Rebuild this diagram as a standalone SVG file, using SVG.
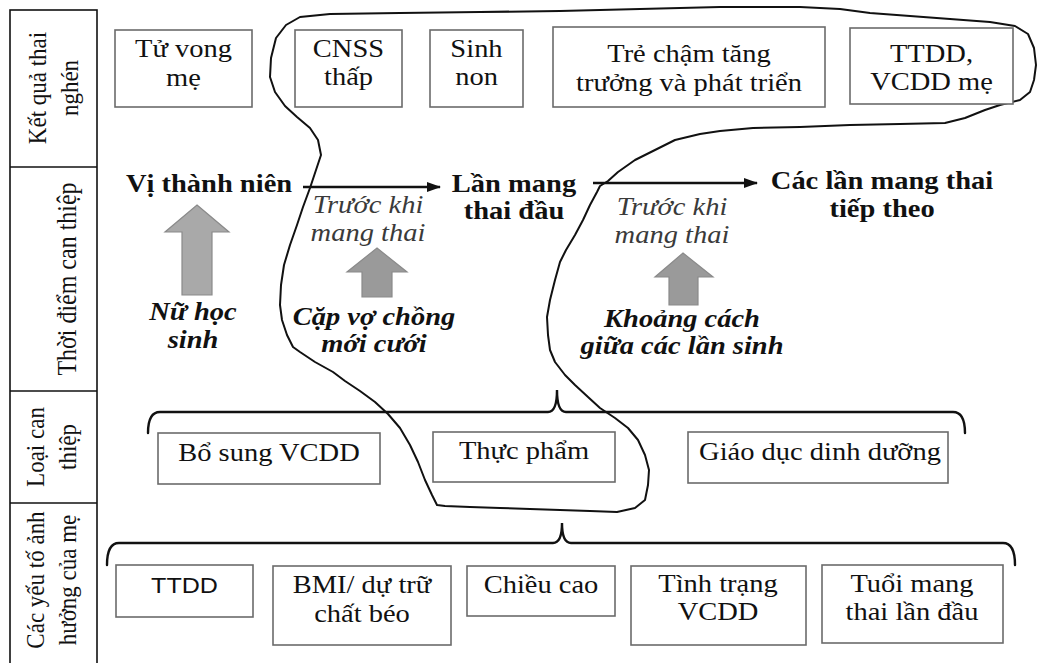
<svg xmlns="http://www.w3.org/2000/svg" width="1037" height="663" viewBox="0 0 1037 663">
<style>
.box{fill:#fff;stroke:#6b6b6b;stroke-width:1.6}
.t{font-family:"Liberation Serif","Times New Roman",serif;font-size:25px;fill:#111;text-anchor:middle}
.b{font-weight:bold}
.i{font-style:italic;fill:#3a3a3a}
.bi{font-weight:bold;font-style:italic}
.sans{font-family:"Liberation Sans",Arial,sans-serif;font-size:22px}
.v{font-size:23px}
.col{fill:none;stroke:#111;stroke-width:1.6}
.blk{fill:#a9a9a9;stroke:#8a8a8a;stroke-width:1.2}
.blk2{fill:#9a9a9a;stroke:#8a8a8a;stroke-width:1.2}
.br{fill:none;stroke:#111;stroke-width:2.4;stroke-linecap:round}
.loop{fill:none;stroke:#111;stroke-width:2;stroke-linejoin:round}
.arr{stroke:#111;stroke-width:2.6}
</style>
<defs>
<marker id="ah" markerWidth="14" markerHeight="12" refX="13" refY="6" orient="auto" markerUnits="userSpaceOnUse">
<path d="M0,1 L14,6 L0,11 Z" fill="#111"/>
</marker>
</defs>
<rect width="1037" height="663" fill="#fff"/>

<g id="side-labels">
<rect class="col" x="10" y="10" width="87" height="670"/>
<line class="col" x1="10" y1="167" x2="97" y2="167"/>
<line class="col" x1="10" y1="391" x2="97" y2="391"/>
<line class="col" x1="10" y1="503" x2="97" y2="503"/>
<text class="t v" transform="translate(46,88) rotate(-90) scale(1,1.12)"><tspan x="0" y="0">Kết quả thai</tspan><tspan x="0" y="29">nghén</tspan></text>
<text class="t v" transform="translate(76,279) rotate(-90) scale(1,1.12)" style="font-size:24px">Thời điểm can thiệp</text>
<text class="t v" transform="translate(44,447) rotate(-90) scale(1,1.12)"><tspan x="0" y="0">Loại can</tspan><tspan x="0" y="29">thiệp</tspan></text>
<text class="t v" transform="translate(44,580) rotate(-90) scale(1,1.12)"><tspan x="0" y="0">Các yếu tố ảnh</tspan><tspan x="0" y="29">hưởng của mẹ</tspan></text>
</g>

<g id="connectors">
<path class="loop" d="M300,17 L330,14 L400,13 L480,12 L560,11 L640,9 L720,7 L800,7 L840,9 L870,13 L910,16 L950,19 L990,22 L1015,26 L1028,34 L1034,48 L1036,65 L1034,80 L1030,92 L1020,100 L1000,105 L985,110 L965,118 L945,123 L900,124 L850,125 L800,127 L753,128 L720,131 L700,134 L675,140 L655,150 L635,160 L618,172 L608,181 L600,186 L597,192 L590,205 L583,220 L575,235 L566,250 L560,262 L555,280 L550,300 L547,317 L548,335 L550,350 L555,362 L565,375 L575,385 L588,397 L600,408 L615,418 L628,428 L638,440 L645,455 L649,470 L648,485 L645,500 L635,508 L617,512 L590,511 L560,510 L530,509 L500,508 L470,507 L445,506 L437,505 L432,495 L425,480 L418,462 L410,445 L400,428 L388,414 L375,402 L360,391 L345,381 L333,372 L315,362 L300,352 L293,347 L287,335 L282,320 L280,305 L281,285 L284,265 L290,245 L297,225 L303,207 L310,188 L316,170 L321,155 L318,140 L310,128 L297,117 L285,106 L275,92 L270,77 L271,58 L276,38 L286,25 Z"/>
<line class="arr" x1="303" y1="187" x2="440" y2="187" marker-end="url(#ah)"/>
<line class="arr" x1="593" y1="183" x2="757" y2="183" marker-end="url(#ah)"/>
<path class="br" d="M148,433 Q148,412 160,412 L548,412 Q557,412 557,390 Q557,412 566,412 L953,412 Q965,412 965,433"/>
<path class="br" d="M107,565 Q107,543 119,543 L553,543 Q562,543 562,523 Q562,543 571,543 L1003,543 Q1015,543 1015,565"/>
<polygon class="blk" points="197,205 229,232 212,232 212,295 182,295 182,232 165,232"/>
<polygon class="blk2" points="377,248 407,272 392,272 392,297 362,297 362,272 347,272"/>
<polygon class="blk2" points="683,253 713,277 698,277 698,305 669,305 669,277 655,277"/>
</g>

<g id="tu-vong-me">
<rect class="box" x="115" y="30" width="137" height="77"/>
<text class="t" transform="translate(183.5,57) scale(1.14,1)"><tspan x="0" y="0">Tử vong</tspan><tspan x="0" y="29">mẹ</tspan></text>
</g>
<g id="cnss-thap">
<rect class="box" x="295" y="30" width="107" height="77"/>
<text class="t" transform="translate(348.5,57) scale(1.14,1)"><tspan x="0" y="0">CNSS</tspan><tspan x="0" y="28">thấp</tspan></text>
</g>
<g id="sinh-non">
<rect class="box" x="430" y="30" width="93" height="77"/>
<text class="t" transform="translate(476.5,57) scale(1.14,1)"><tspan x="0" y="0">Sinh</tspan><tspan x="0" y="28">non</tspan></text>
</g>
<g id="tre-cham">
<rect class="box" x="553" y="27" width="272" height="80"/>
<text class="t" transform="translate(689,62) scale(1.14,1)"><tspan x="0" y="0">Trẻ chậm tăng</tspan><tspan x="0" y="29">trưởng và phát triển</tspan></text>
</g>
<g id="ttdd-vcdd-me">
<rect class="box" x="850" y="28" width="163" height="76"/>
<text class="t" transform="translate(931.5,62) scale(1.14,1)"><tspan x="0" y="0">TTDD,</tspan><tspan x="0" y="28">VCDD mẹ</tspan></text>
</g>

<g id="vi-thanh-nien">
<text class="t b" transform="translate(209,192) scale(1.14,1)">Vị thành niên</text>
</g>
<g id="lan-mang-thai-dau">
<text class="t b" transform="translate(514,192) scale(1.14,1)"><tspan x="0" y="0">Lần mang</tspan><tspan x="0" y="27">thai đầu</tspan></text>
</g>
<g id="cac-lan-mang-thai">
<text class="t b" transform="translate(882,189) scale(1.14,1)"><tspan x="0" y="0">Các lần mang thai</tspan><tspan x="0" y="28">tiếp theo</tspan></text>
</g>
<g id="truoc-khi-1">
<text class="t i" transform="translate(368,213) scale(1.14,1)"><tspan x="0" y="0">Trước khi</tspan><tspan x="0" y="28">mang thai</tspan></text>
</g>
<g id="truoc-khi-2">
<text class="t i" transform="translate(672,215) scale(1.14,1)"><tspan x="0" y="0">Trước khi</tspan><tspan x="0" y="28">mang thai</tspan></text>
</g>
<g id="nu-hoc-sinh">
<text class="t bi" transform="translate(193,320) scale(1.14,1)"><tspan x="0" y="0">Nữ học</tspan><tspan x="0" y="28">sinh</tspan></text>
</g>
<g id="cap-vo-chong">
<text class="t bi" transform="translate(374,325) scale(1.14,1)"><tspan x="0" y="0">Cặp vợ chồng</tspan><tspan x="0" y="27">mới cưới</tspan></text>
</g>
<g id="khoang-cach">
<text class="t bi" transform="translate(682,327) scale(1.14,1)"><tspan x="0" y="0">Khoảng cách</tspan><tspan x="0" y="27">giữa các lần sinh</tspan></text>
</g>

<g id="bo-sung-vcdd">
<rect class="box" x="158" y="433" width="222" height="51"/>
<text class="t" transform="translate(269,461) scale(1.14,1)">Bổ sung VCDD</text>
</g>
<g id="thuc-pham">
<rect class="box" x="433" y="432" width="182" height="50"/>
<text class="t" transform="translate(524,459) scale(1.14,1)">Thực phẩm</text>
</g>
<g id="giao-duc">
<rect class="box" x="688" y="432" width="260" height="51"/>
<text class="t" transform="translate(820,460) scale(1.14,1)">Giáo dục dinh dưỡng</text>
</g>

<g id="ttdd">
<rect class="box" x="116" y="565" width="137" height="52"/>
<text class="t sans" transform="translate(184.5,593) scale(1.14,1)">TTDD</text>
</g>
<g id="bmi">
<rect class="box" x="273" y="566" width="178" height="79"/>
<text class="t" transform="translate(362,593) scale(1.14,1)"><tspan x="0" y="0">BMI/ dự trữ</tspan><tspan x="0" y="29">chất béo</tspan></text>
</g>
<g id="chieu-cao">
<rect class="box" x="467" y="566" width="148" height="50"/>
<text class="t" transform="translate(541,593) scale(1.14,1)">Chiều cao</text>
</g>
<g id="tinh-trang-vcdd">
<rect class="box" x="631" y="566" width="175" height="79"/>
<text class="t" transform="translate(718,592) scale(1.14,1)"><tspan x="0" y="0">Tình trạng</tspan><tspan x="0" y="28">VCDD</tspan></text>
</g>
<g id="tuoi-mang-thai">
<rect class="box" x="822" y="565" width="181" height="78"/>
<text class="t" transform="translate(912,592) scale(1.14,1)"><tspan x="0" y="0">Tuổi mang</tspan><tspan x="0" y="28">thai lần đầu</tspan></text>
</g>
</svg>
